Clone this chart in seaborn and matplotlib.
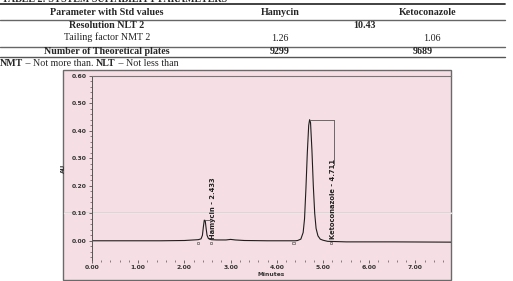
import matplotlib
matplotlib.use("Agg")
import matplotlib.pyplot as plt
import seaborn as sns
import pandas as pd
from matplotlib.lines import Line2D
from matplotlib.patches import Rectangle
from matplotlib.ticker import MultipleLocator, FormatStrFormatter, FixedLocator

# ---------------- data ----------------
table_title = "TABLE 2: SYSTEM SUITABILITY PARAMETERS"
table_header = ["Parameter with Std values", "Hamycin", "Ketoconazole"]
resolution_label = "Resolution NLT 2"
resolution_value = "10.43"
tailing_label = "Tailing factor NMT 2"
tailing_values = ["1.26", "1.06"]
plates_label = "Number of Theoretical plates"
plates_values = ["9299", "9689"]

time_min = [0.00, 0.50, 1.00, 1.50, 2.00, 2.20, 2.30, 2.36, 2.39, 2.41, 2.43,
            2.45, 2.47, 2.49, 2.52, 2.58, 2.70, 2.90, 3.00, 3.10, 3.30, 3.80,
            4.40, 4.45, 4.52, 4.57, 4.60, 4.63, 4.66, 4.69, 4.71, 4.73, 4.76,
            4.79, 4.82, 4.85, 4.89, 4.94, 5.00, 5.10, 5.50, 6.50, 7.77]
au = [0.000, 0.000, 0.000, 0.000, 0.001, 0.003, 0.004, 0.007, 0.020, 0.050, 0.075,
      0.074, 0.045, 0.020, 0.008, 0.004, 0.003, 0.003, 0.005, 0.003, 0.001, 0.000,
      0.000, 0.001, 0.006, 0.030, 0.080, 0.190, 0.320, 0.420, 0.441, 0.430, 0.330,
      0.200, 0.100, 0.045, 0.018, 0.006, 0.002, -0.002, -0.004, -0.004, -0.005]

x_ticks = [0.0, 1.0, 2.0, 3.0, 4.0, 5.0, 6.0, 7.0]
y_ticks = [0.0, 0.1, 0.2, 0.3, 0.4, 0.5, 0.6]

peak_names = ["Hamycin - 2.433", "Ketoconazole - 4.711"]
peak_apex_t = [2.45, 4.72]
peak_apex_au = [0.076, 0.441]
label_t = [2.62, 5.22]
leader_t = [2.55, 5.24]
marker_t = [2.30, 2.58, 4.36, 5.17]
marker_au = [-0.007, -0.007, -0.009, -0.009]

# ---------------- figure ----------------
sns.set_style("ticks")
plt.rcParams["font.family"] = ["DejaVu Sans"]

W, H = 513, 281
fig = plt.figure(figsize=(W / 100, H / 100), dpi=100)
fig.patch.set_facecolor("white")

def fx(px):
    return px / W

def fy(py):
    return 1 - py / H

serif = "Liberation Serif"
fs = 7.2

# title (cut off at top, as in the reference)
fig.text(fx(2), fy(-1.0), table_title, family=serif, fontsize=fs, weight="bold",
         ha="left", va="center")

# table lines
for ypx, lw, col in [(4, 1.3, "#333333"), (20.3, 1.0, "#666666"),
                     (46.7, 1.0, "#666666"), (57.3, 1.0, "#555555")]:
    fig.add_artist(Line2D([0, fx(505)], [fy(ypx)] * 2, color=col, lw=lw))

col_x = [107, 280, 428]
for x, t in zip(col_x, table_header):
    fig.text(fx(x), fy(12.8), t, family=serif, fontsize=fs, weight="bold",
             ha="center", va="center")
fig.text(fx(107), fy(26), resolution_label, family=serif, fontsize=fs,
         weight="bold", ha="center", va="center")
fig.text(fx(364), fy(25.5), resolution_value, family=serif, fontsize=fs,
         weight="bold", ha="center", va="center")
fig.text(fx(107), fy(37.5), tailing_label, family=serif, fontsize=fs,
         ha="center", va="center", color="#222222")
fig.text(fx(280), fy(38.3), tailing_values[0], family=serif, fontsize=fs,
         ha="center", va="center", color="#222222")
fig.text(fx(432), fy(38.3), tailing_values[1], family=serif, fontsize=fs,
         ha="center", va="center", color="#222222")
fig.text(fx(107), fy(51.8), plates_label, family=serif, fontsize=fs,
         weight="bold", ha="center", va="center")
fig.text(fx(280), fy(51.8), plates_values[0], family=serif, fontsize=fs,
         weight="bold", ha="center", va="center")
fig.text(fx(423), fy(51.8), plates_values[1], family=serif, fontsize=fs,
         weight="bold", ha="center", va="center")

# footnote with mixed weights
renderer = fig.canvas.get_renderer()
xcur = fx(0)
for part, wt in [("NMT", "bold"), (" \u2013 Not more than. ", "normal"),
                 ("NLT", "bold"), (" \u2013 Not less than", "normal")]:
    t = fig.text(xcur, fy(63.3), part, family=serif, fontsize=fs, weight=wt,
                 ha="left", va="center")
    bb = t.get_window_extent(renderer=renderer)
    xcur += bb.width / W

# photo background
pink = "#f6dfe4"
fig.add_artist(Rectangle((fx(63), fy(280)), fx(451) - fx(63), fy(69.5) - fy(280),
                         transform=fig.transFigure, facecolor=pink,
                         edgecolor="#6a6a6a", lw=1.0, zorder=0))
# paper fold line
fig.add_artist(Line2D([fx(63.5), fx(450.5)], [fy(212.7)] * 2, color="#ece8e8",
                      lw=1.0, zorder=0.2))
fig.add_artist(Line2D([fx(63.5), fx(450.5)], [fy(211.6)] * 2, color="#dccdd0",
                      lw=0.5, zorder=0.2))

ax = fig.add_axes([fx(92), fy(260), fx(451) - fx(92), fy(76) - fy(260)])
ax.set_zorder(1)
ax.set_facecolor("none")
ax.patch.set_alpha(0)

df = pd.DataFrame({"Minutes": time_min, "AU": au})
sns.lineplot(data=df, x="Minutes", y="AU", ax=ax, color="#1e1e1e", lw=0.8,
             estimator=None, sort=False)

# peak annotations
for name, at, aa, lt, ldt in zip(peak_names, peak_apex_t, peak_apex_au,
                                 label_t, leader_t):
    ax.plot([at, ldt], [aa, aa], color="#555555", lw=0.6)
    if name.startswith("Keto"):
        ax.plot([ldt, ldt], [aa, 0.275], color="#555555", lw=0.6)
    ax.text(lt, 0.008, name, rotation=90, ha="center", va="bottom",
            fontsize=4.9, weight="bold", color="#222222")

ax.scatter(marker_t, marker_au, marker="s", s=2.5, facecolors="none",
           edgecolors="#444444", linewidths=0.4, zorder=3)

ax.xaxis.set_major_locator(FixedLocator(x_ticks))
ax.xaxis.set_minor_locator(MultipleLocator(0.2))
ax.yaxis.set_major_locator(FixedLocator(y_ticks))
ax.yaxis.set_minor_locator(MultipleLocator(0.02))
ax.xaxis.set_major_formatter(FormatStrFormatter("%.2f"))
ax.yaxis.set_major_formatter(FormatStrFormatter("%.2f"))
ax.set_xlim(0, 7.77)
ax.set_ylim(-0.07, 0.60)
ax.tick_params(axis="both", which="major", direction="out", length=2.2,
               width=0.5, labelsize=4.4, pad=1.5, colors="#333333")
ax.tick_params(axis="both", which="minor", direction="out", length=1.3,
               width=0.4, colors="#333333")
for lab in ax.get_xticklabels() + ax.get_yticklabels():
    lab.set_fontweight("bold")

ax.spines["bottom"].set_visible(False)
ax.spines["left"].set_color("#555555")
ax.spines["left"].set_linewidth(0.7)
ax.spines["top"].set_color("#777777")
ax.spines["top"].set_linewidth(0.8)
ax.spines["right"].set_visible(False)

ax.set_xlabel("Minutes", fontsize=4.3, weight="bold", labelpad=1.5,
              color="#333333")
ax.set_ylabel("AU", fontsize=4.3, weight="bold", labelpad=4, color="#333333")

fig.savefig("out.png", dpi=100)
